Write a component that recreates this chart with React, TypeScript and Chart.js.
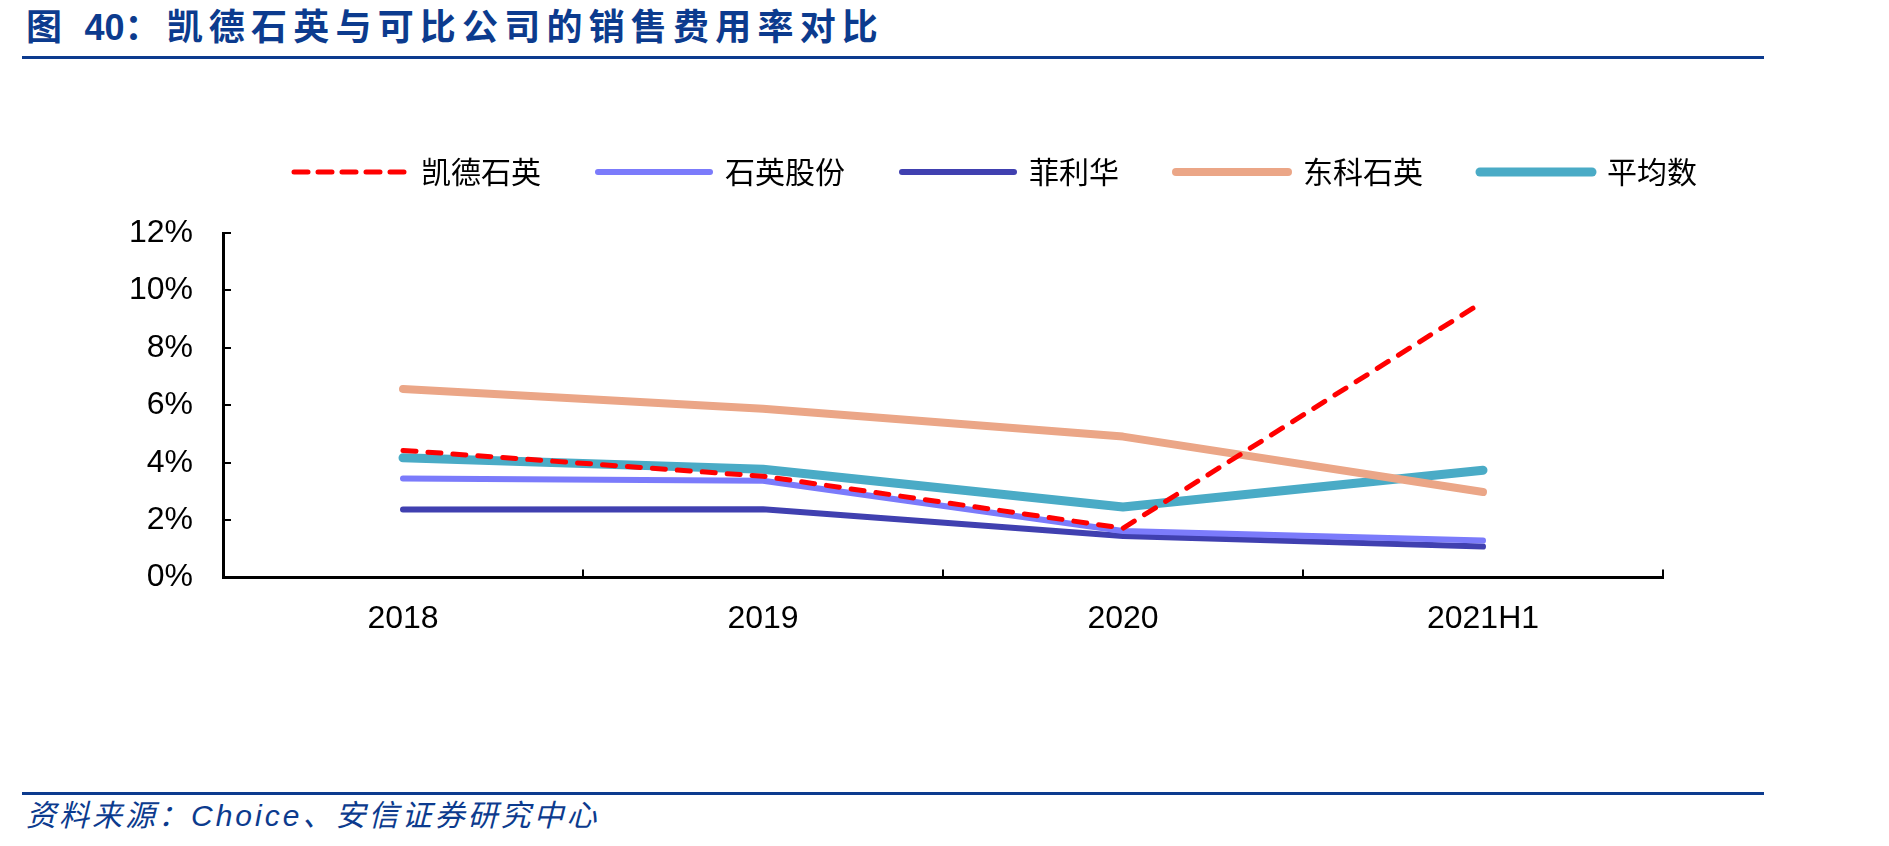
import React, { useEffect, useRef } from "react";
import { Chart, registerables } from "chart.js";

Chart.register(...registerables);

const categories = ["2018", "2019", "2020", "2021H1"];
const kaideShiying = [4.43, 3.53, 1.72, 9.6];
const shiyingGufen = [3.45, 3.37, 1.62, 1.29];
const feilihua = [2.37, 2.38, 1.45, 1.08];
const dongkeShiying = [6.57, 5.88, 4.91, 2.98];
const pingjunshu = [4.17, 3.77, 2.46, 3.74];

const seriesNames = ["凯德石英", "石英股份", "菲利华", "东科石英", "平均数"];
const seriesColors = ["#FF0000", "#7B7BFB", "#4040B0", "#EBA687", "#4AABC6"];
const seriesWidths = [5, 6, 6, 8, 9];
const yMin = 0;
const yMax = 12;
const yStep = 2;

const TITLE_BLUE = "#0C3B8E";
const LATIN_CJK = '"Liberation Sans", Arial, "Noto Sans CJK SC", sans-serif';

const legendShift = {
  id: "legendShift",
  afterLayout(chart: any) {
    const lg = chart.legend;
    if (!lg) return;
    const dx = 164;
    const dy = -36;
    lg.left += dx;
    lg.right += dx;
    lg.top += dy;
    lg.bottom += dy;
  },
};

export default function App() {
  const canvasRef = useRef<HTMLCanvasElement | null>(null);

  useEffect(() => {
    const canvas = canvasRef.current;
    if (!canvas) return;
    const allData = [kaideShiying, shiyingGufen, feilihua, dongkeShiying, pingjunshu];
    const datasets = allData.map((d, i) => ({
      label: seriesNames[i],
      data: d,
      borderColor: seriesColors[i],
      backgroundColor: seriesColors[i],
      borderWidth: seriesWidths[i],
      borderDash: i === 0 ? [13, 12] : [],
      borderCapStyle: "round" as const,
      borderJoinStyle: "round" as const,
      pointRadius: 0,
      pointHoverRadius: 0,
      tension: 0,
      fill: false,
    }));

    const chart = new Chart(canvas, {
      type: "line",
      data: { labels: categories, datasets },
      plugins: [legendShift],
      options: {
        animation: false,
        responsive: false,
        maintainAspectRatio: false,
        events: [],
        layout: { padding: { left: 0, right: 226, top: 36, bottom: 10 } },
        plugins: {
          tooltip: { enabled: false },
          title: { display: false },
          legend: {
            display: true,
            position: "top",
            align: "center",
            labels: {
              usePointStyle: true,
              pointStyleWidth: 112,
              boxHeight: 30,
              padding: 57,
              color: "#000000",
              font: { family: '"Noto Sans CJK SC", sans-serif', size: 30 },
              generateLabels: () =>
                seriesNames.map((name, i) => ({
                  text: name,
                  fillStyle: seriesColors[i],
                  strokeStyle: seriesColors[i],
                  lineWidth: seriesWidths[i],
                  lineDash: i === 0 ? [14, 10] : [],
                  lineCap: "round" as const,
                  lineJoin: "round" as const,
                  pointStyle: "line" as const,
                  hidden: false,
                  datasetIndex: i,
                  fontColor: "#000000",
                })),
            },
          },
        },
        scales: {
          x: {
            type: "category",
            offset: true,
            grid: {
              display: true,
              offset: true,
              drawOnChartArea: false,
              drawTicks: true,
              tickLength: -8,
              color: "#000000",
              lineWidth: 2,
            },
            border: { display: true, color: "#000000", width: 3 },
            ticks: {
              padding: 30,
              color: "#000000",
              font: { family: LATIN_CJK, size: 32 },
              maxRotation: 0,
              autoSkip: false,
            },
          },
          y: {
            type: "linear",
            min: yMin,
            max: yMax,
            afterFit: (scale: any) => {
              scale.width = 223;
            },
            grid: {
              display: true,
              drawOnChartArea: false,
              drawTicks: true,
              tickLength: -8,
              color: "#000000",
              lineWidth: 2,
            },
            border: { display: true, color: "#000000", width: 3 },
            ticks: {
              stepSize: yStep,
              autoSkip: false,
              padding: 38,
              color: "#000000",
              font: { family: LATIN_CJK, size: 32 },
              callback: (v: any) => `${v}%`,
            },
          },
        },
      },
    });
    return () => chart.destroy();
  }, []);

  return (
    <div
      style={{
        position: "absolute",
        left: 0,
        top: 0,
        width: 1889,
        height: 846,
        background: "#ffffff",
        overflow: "hidden",
      }}
    >
      <div
        style={{
          position: "absolute",
          left: 26,
          top: 5,
          fontFamily: LATIN_CJK,
          fontWeight: 700,
          fontSize: 36,
          lineHeight: "46px",
          letterSpacing: 6.2,
          color: TITLE_BLUE,
          whiteSpace: "nowrap",
        }}
      >
        图 <span style={{ letterSpacing: 0 }}>40</span>：凯德石英与可比公司的销售费用率对比
      </div>
      <div
        style={{
          position: "absolute",
          left: 22,
          top: 56,
          width: 1742,
          height: 3,
          background: TITLE_BLUE,
        }}
      />
      <canvas
        ref={canvasRef}
        width={1889}
        height={578}
        style={{ position: "absolute", left: 0, top: 100, width: 1889, height: 578 }}
      />
      <div
        style={{
          position: "absolute",
          left: 22,
          top: 792,
          width: 1742,
          height: 3,
          background: TITLE_BLUE,
        }}
      />
      <div
        style={{
          position: "absolute",
          left: 26,
          top: 797,
          fontFamily: LATIN_CJK,
          fontStyle: "italic",
          fontSize: 30,
          lineHeight: "38px",
          letterSpacing: 3,
          color: TITLE_BLUE,
          whiteSpace: "nowrap",
        }}
      >
        资料来源：Choice、安信证券研究中心
      </div>
    </div>
  );
}
